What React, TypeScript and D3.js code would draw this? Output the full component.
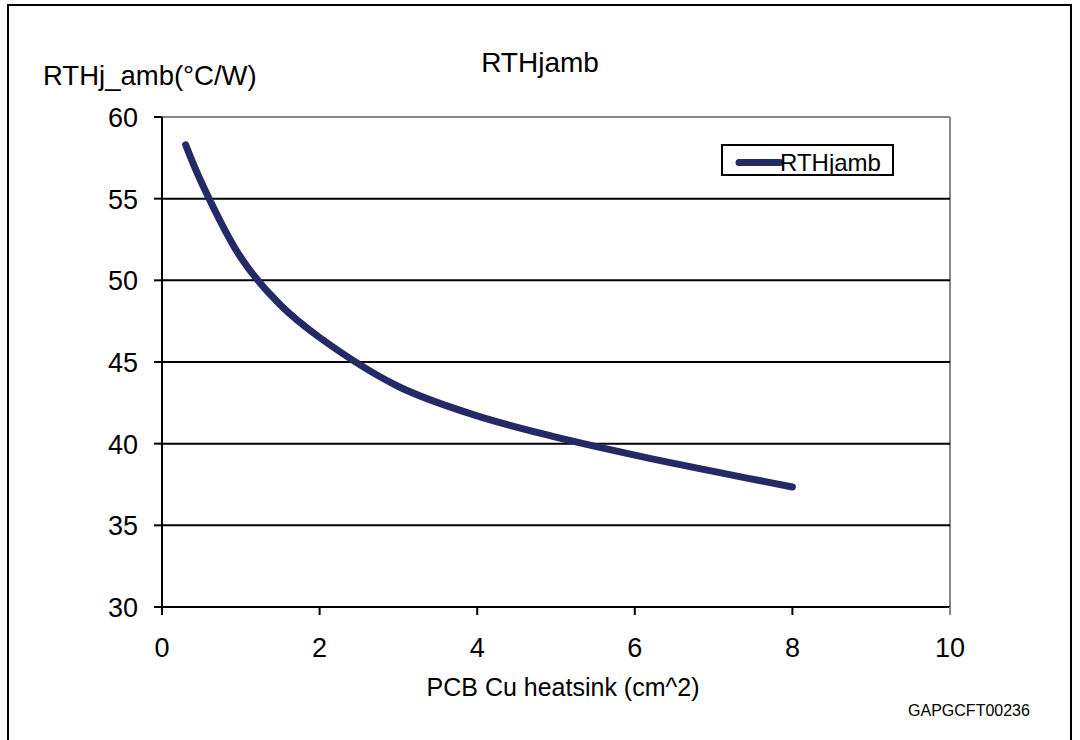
import React from "react";
import * as d3 from "d3";

const xValues = [0.3, 0.5, 1, 1.5, 2, 3, 4, 5, 6, 7, 8];
const yValues = [58.3, 56.0, 51.4, 48.5, 46.5, 43.5, 41.7, 40.4, 39.3, 38.3, 37.35];
const xTicks = [0, 2, 4, 6, 8, 10];
const yTicks = [30, 35, 40, 45, 50, 55, 60];
const seriesName = "RTHjamb";
const title = "RTHjamb";
const yLabel = "RTHj_amb(°C/W)";
const xLabel = "PCB Cu heatsink (cm^2)";
const code = "GAPGCFT00236";

export default function App() {
  const W = 1080, H = 740;
  const left = 162, right = 950, top = 117, bottom = 607;
  const x = d3.scaleLinear().domain([0, 10]).range([left, right]);
  const y = d3.scaleLinear().domain([30, 60]).range([bottom, top]);
  const pts: [number, number][] = xValues.map((v, i) => [v, yValues[i]]);
  const line = d3
    .line<[number, number]>()
    .x((d) => x(d[0]))
    .y((d) => y(d[1]))
    .curve(d3.curveCatmullRom.alpha(0.5));
  const font = "Arial, 'Liberation Sans', Helvetica, sans-serif";
  const navy = "#232a66";
  return (
    <svg
      width={W}
      height={H}
      style={{ position: "absolute", left: 0, top: 0, background: "#fff" }}
      fontFamily={font}
    >
      <rect x={0} y={0} width={W} height={H} fill="#fff" />
      {/* outer frame */}
      <line x1={8} x2={8} y1={5} y2={H} stroke="#000" strokeWidth={2} />
      <line x1={7} x2={1072} y1={5} y2={5} stroke="#000" strokeWidth={2} />
      <line x1={1071} x2={1071} y1={5} y2={H} stroke="#000" strokeWidth={2} />

      <text x={540} y={72} textAnchor="middle" fontSize={28} fill="#000">
        {title}
      </text>
      <text x={43} y={85} fontSize={27.5} fill="#000">
        {yLabel}
      </text>

      {/* plot frame top and right */}
      <line x1={left} x2={right} y1={top} y2={top} stroke="#888" strokeWidth={2} />
      <line x1={right} x2={right} y1={top} y2={bottom} stroke="#888" strokeWidth={2} />

      {/* gridlines */}
      {yTicks
        .filter((t) => t !== 30 && t !== 60)
        .map((t) => (
          <line key={"g" + t} x1={left} x2={right} y1={y(t)} y2={y(t)} stroke="#000" strokeWidth={2} />
        ))}

      {/* axes */}
      <line x1={left} x2={right} y1={bottom} y2={bottom} stroke="#000" strokeWidth={2} />
      <line x1={left} x2={left} y1={top} y2={bottom} stroke="#000" strokeWidth={2} />

      {yTicks.map((t) => (
        <g key={"y" + t}>
          <line x1={left - 8} x2={left} y1={y(t)} y2={y(t)} stroke="#000" strokeWidth={2} />
          <text x={138} y={y(t) + 10} textAnchor="end" fontSize={27} fill="#000">
            {t}
          </text>
        </g>
      ))}
      {xTicks.map((t) => (
        <g key={"x" + t}>
          <line x1={x(t)} x2={x(t)} y1={bottom} y2={bottom + 8} stroke={t === 10 ? "#888" : "#000"} strokeWidth={2} />
          <text x={x(t)} y={657} textAnchor="middle" fontSize={27} fill="#000">
            {t}
          </text>
        </g>
      ))}

      <path d={line(pts) || ""} fill="none" stroke={navy} strokeWidth={7} strokeLinecap="round" strokeLinejoin="round" />

      {/* legend */}
      <rect x={722} y={145} width={171} height={30} fill="#fff" stroke="#000" strokeWidth={2} />
      <line x1={739} x2={780} y1={162.5} y2={162.5} stroke={navy} strokeWidth={7} strokeLinecap="round" />
      <text x={780} y={171} fontSize={24} fill="#000">
        {seriesName}
      </text>

      <text x={563} y={696} textAnchor="middle" fontSize={25} fill="#000">
        {xLabel}
      </text>
      <text x={969} y={716} textAnchor="middle" fontSize={16} fill="#000">
        {code}
      </text>
    </svg>
  );
}
